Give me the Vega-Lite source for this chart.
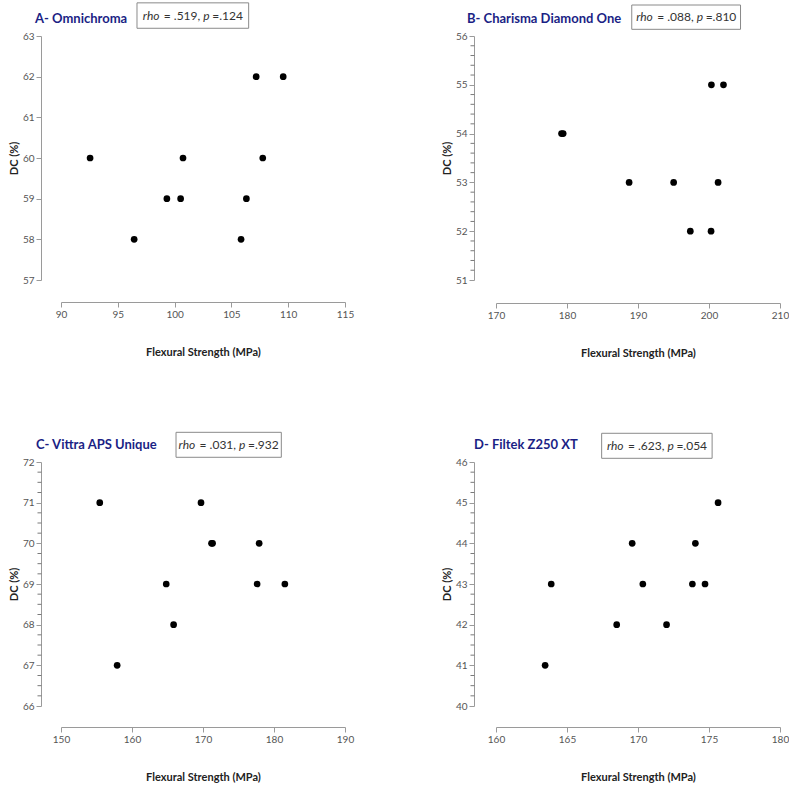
{
  "$schema": "https://vega.github.io/schema/vega-lite/v6.json",
  "padding": {"left": 8, "top": 2, "right": 2, "bottom": 5},
  "background": "white",
  "datasets": {
    "A": [
      {"fs": 92.56, "dc": 60}, {"fs": 96.44, "dc": 58}, {"fs": 99.32, "dc": 59}, {"fs": 100.53, "dc": 59}, {"fs": 100.74, "dc": 60},
      {"fs": 105.85, "dc": 58}, {"fs": 106.32, "dc": 59}, {"fs": 107.18, "dc": 62}, {"fs": 107.76, "dc": 60}, {"fs": 109.56, "dc": 62}
    ],
    "B": [
      {"fs": 179.23, "dc": 54}, {"fs": 179.46, "dc": 54}, {"fs": 188.75, "dc": 53}, {"fs": 195.02, "dc": 53}, {"fs": 197.37, "dc": 52},
      {"fs": 200.29, "dc": 52}, {"fs": 200.34, "dc": 55}, {"fs": 201.28, "dc": 53}, {"fs": 202.04, "dc": 55}
    ],
    "C": [
      {"fs": 155.46, "dc": 71}, {"fs": 169.72, "dc": 71}, {"fs": 171.2, "dc": 70}, {"fs": 171.35, "dc": 70}, {"fs": 177.91, "dc": 70},
      {"fs": 164.82, "dc": 69}, {"fs": 177.62, "dc": 69}, {"fs": 181.53, "dc": 69}, {"fs": 165.86, "dc": 68}, {"fs": 157.91, "dc": 67}
    ],
    "D": [
      {"fs": 175.64, "dc": 45}, {"fs": 169.59, "dc": 44}, {"fs": 174.04, "dc": 44}, {"fs": 163.89, "dc": 43}, {"fs": 170.34, "dc": 43},
      {"fs": 173.83, "dc": 43}, {"fs": 174.72, "dc": 43}, {"fs": 168.5, "dc": 42}, {"fs": 172.01, "dc": 42}, {"fs": 163.46, "dc": 41}
    ],
    "minorB": [
      {"v": 51.2}, {"v": 51.4}, {"v": 51.6}, {"v": 51.8}, {"v": 52.2}, {"v": 52.4}, {"v": 52.6}, {"v": 52.8}, {"v": 53.2}, {"v": 53.4},
      {"v": 53.6}, {"v": 53.8}, {"v": 54.2}, {"v": 54.4}, {"v": 54.6}, {"v": 54.8}, {"v": 55.2}, {"v": 55.4}, {"v": 55.6}, {"v": 55.8}
    ],
    "minorC": [
      {"v": 66.25}, {"v": 66.5}, {"v": 66.75}, {"v": 67.25}, {"v": 67.5}, {"v": 67.75}, {"v": 68.25}, {"v": 68.5}, {"v": 68.75},
      {"v": 69.25}, {"v": 69.5}, {"v": 69.75}, {"v": 70.25}, {"v": 70.5}, {"v": 70.75}, {"v": 71.25}, {"v": 71.5}, {"v": 71.75}
    ],
    "minorD": [
      {"v": 40.25}, {"v": 40.5}, {"v": 40.75}, {"v": 41.25}, {"v": 41.5}, {"v": 41.75}, {"v": 42.25}, {"v": 42.5}, {"v": 42.75},
      {"v": 43.25}, {"v": 43.5}, {"v": 43.75}, {"v": 44.25}, {"v": 44.5}, {"v": 44.75}, {"v": 45.25}, {"v": 45.5}, {"v": 45.75}
    ]
  },
  "config": {
    "view": {"stroke": null},
    "font": "Lato",
    "axis": {
      "grid": false,
      "domainColor": "#9a9a9a",
      "tickColor": "#9a9a9a",
      "labelColor": "#555555",
      "labelFont": "Lato",
      "labelFontSize": 10,
      "titleFont": "Lato",
      "titleFontSize": 11,
      "titleFontWeight": "bold",
      "titleColor": "#222222",
      "tickSize": 5,
      "labelPadding": 2,
      "labelFlush": false,
      "labelOverlap": false
    },
    "axisX": {"titlePadding": 27},
    "axisY": {"titlePadding": 3},
    "rule": {"color": "#7a7a7a", "strokeWidth": 1},
    "text": {"font": "Lato", "fontSize": 12, "color": "#333333", "align": "left", "baseline": "middle"},
    "title": {"font": "Lato", "fontSize": 13, "fontWeight": "bold", "color": "#1b1f85", "anchor": "start", "frame": "group", "baseline": "alphabetic"}
  },
  "columns": 2,
  "spacing": {"row": 182, "column": 151},
  "bounds": "flush",
  "concat": [
    {
      "width": 284, "height": 244,
      "title": {"text": "A- Omnichroma", "dx": -26, "offset": -23.5},
      "layer": [
        {
          "data": {"name": "A"},
          "mark": {"type": "circle", "size": 45, "color": "#000000", "opacity": 1},
          "encoding": {
            "x": {"field": "fs", "type": "quantitative", "scale": {"domain": [90, 115], "nice": false, "zero": false},
                  "axis": {"title": "Flexural Strength (MPa)", "values": [90, 95, 100, 105, 110, 115], "offset": 22}},
            "y": {"field": "dc", "type": "quantitative", "scale": {"domain": [57, 63], "nice": false, "zero": false},
                  "axis": {"title": "DC (%)", "values": [57, 58, 59, 60, 61, 62, 63], "offset": 20}}
          }
        },
        {
          "data": {"values": [{}]},
          "mark": {"type": "rect", "fill": "white", "stroke": "#8a8a8a", "strokeWidth": 1, "clip": false},
          "encoding": {"x": {"datum": 96.69, "type": "quantitative"}, "x2": {"datum": 106.52}, "y": {"datum": 63.815, "type": "quantitative"}, "y2": {"datum": 63.19}}
        },
        {
          "data": {"values": [{}]},
          "mark": {"type": "text", "text": "rho", "fontStyle": "italic", "dx": -50, "clip": false},
          "encoding": {"x": {"datum": 101.6, "type": "quantitative"}, "y": {"datum": 63.5, "type": "quantitative"}}
        },
        {
          "data": {"values": [{}]},
          "mark": {"type": "text", "text": "= .519,", "dx": -29, "clip": false},
          "encoding": {"x": {"datum": 101.6, "type": "quantitative"}, "y": {"datum": 63.5, "type": "quantitative"}}
        },
        {
          "data": {"values": [{}]},
          "mark": {"type": "text", "text": "p", "fontStyle": "italic", "dx": 10.5, "clip": false},
          "encoding": {"x": {"datum": 101.6, "type": "quantitative"}, "y": {"datum": 63.5, "type": "quantitative"}}
        },
        {
          "data": {"values": [{}]},
          "mark": {"type": "text", "text": "=.124", "dx": 19.5, "clip": false},
          "encoding": {"x": {"datum": 101.6, "type": "quantitative"}, "y": {"datum": 63.5, "type": "quantitative"}}
        }
      ]
    },
    {
      "width": 284, "height": 244,
      "title": {"text": "B- Charisma Diamond One", "dx": -29, "offset": -21.5},
      "layer": [
        {
          "data": {"name": "B"},
          "mark": {"type": "circle", "size": 45, "color": "#000000", "opacity": 1},
          "encoding": {
            "x": {"field": "fs", "type": "quantitative", "scale": {"domain": [170, 210], "nice": false, "zero": false},
                  "axis": {"title": "Flexural Strength (MPa)", "values": [170, 180, 190, 200, 210], "offset": 23}},
            "y": {"field": "dc", "type": "quantitative", "scale": {"domain": [51, 56], "nice": false, "zero": false},
                  "axis": {"title": "DC (%)", "values": [51, 52, 53, 54, 55, 56], "offset": 22}}
          }
        },
        {
          "data": {"name": "minorB"},
          "mark": {"type": "rule", "clip": false},
          "encoding": {"x": {"datum": 166.97, "type": "quantitative"}, "x2": {"datum": 166.41}, "y": {"field": "v", "type": "quantitative"}}
        },
        {
          "data": {"values": [{}]},
          "mark": {"type": "rect", "fill": "white", "stroke": "#8a8a8a", "strokeWidth": 1, "clip": false},
          "encoding": {"x": {"datum": 189.12, "type": "quantitative"}, "x2": {"datum": 204.44}, "y": {"datum": 56.635, "type": "quantitative"}, "y2": {"datum": 56.137}}
        },
        {
          "data": {"values": [{}]},
          "mark": {"type": "text", "text": "rho", "fontStyle": "italic", "dx": -50, "clip": false},
          "encoding": {"x": {"datum": 196.78, "type": "quantitative"}, "y": {"datum": 56.386, "type": "quantitative"}}
        },
        {
          "data": {"values": [{}]},
          "mark": {"type": "text", "text": "= .088,", "dx": -29, "clip": false},
          "encoding": {"x": {"datum": 196.78, "type": "quantitative"}, "y": {"datum": 56.386, "type": "quantitative"}}
        },
        {
          "data": {"values": [{}]},
          "mark": {"type": "text", "text": "p", "fontStyle": "italic", "dx": 10.5, "clip": false},
          "encoding": {"x": {"datum": 196.78, "type": "quantitative"}, "y": {"datum": 56.386, "type": "quantitative"}}
        },
        {
          "data": {"values": [{}]},
          "mark": {"type": "text", "text": "=.810", "dx": 19.5, "clip": false},
          "encoding": {"x": {"datum": 196.78, "type": "quantitative"}, "y": {"datum": 56.386, "type": "quantitative"}}
        }
      ]
    },
    {
      "width": 284, "height": 244,
      "title": {"text": "C- Vittra APS Unique", "dx": -25, "offset": -20.2},
      "layer": [
        {
          "data": {"name": "C"},
          "mark": {"type": "circle", "size": 45, "color": "#000000", "opacity": 1},
          "encoding": {
            "x": {"field": "fs", "type": "quantitative", "scale": {"domain": [150, 190], "nice": false, "zero": false},
                  "axis": {"title": "Flexural Strength (MPa)", "values": [150, 160, 170, 180, 190], "offset": 21}},
            "y": {"field": "dc", "type": "quantitative", "scale": {"domain": [66, 72], "nice": false, "zero": false},
                  "axis": {"title": "DC (%)", "values": [66, 67, 68, 69, 70, 71, 72], "offset": 20}}
          }
        },
        {
          "data": {"name": "minorC"},
          "mark": {"type": "rule", "clip": false},
          "encoding": {"x": {"datum": 147.25, "type": "quantitative"}, "x2": {"datum": 146.69}, "y": {"field": "v", "type": "quantitative"}}
        },
        {
          "data": {"values": [{}]},
          "mark": {"type": "rect", "fill": "white", "stroke": "#8a8a8a", "strokeWidth": 1, "clip": false},
          "encoding": {"x": {"datum": 166.2, "type": "quantitative"}, "x2": {"datum": 181.03}, "y": {"datum": 72.73, "type": "quantitative"}, "y2": {"datum": 72.116}}
        },
        {
          "data": {"values": [{}]},
          "mark": {"type": "text", "text": "rho", "fontStyle": "italic", "dx": -50, "clip": false},
          "encoding": {"x": {"datum": 173.6, "type": "quantitative"}, "y": {"datum": 72.42, "type": "quantitative"}}
        },
        {
          "data": {"values": [{}]},
          "mark": {"type": "text", "text": "= .031,", "dx": -29, "clip": false},
          "encoding": {"x": {"datum": 173.6, "type": "quantitative"}, "y": {"datum": 72.42, "type": "quantitative"}}
        },
        {
          "data": {"values": [{}]},
          "mark": {"type": "text", "text": "p", "fontStyle": "italic", "dx": 10.5, "clip": false},
          "encoding": {"x": {"datum": 173.6, "type": "quantitative"}, "y": {"datum": 72.42, "type": "quantitative"}}
        },
        {
          "data": {"values": [{}]},
          "mark": {"type": "text", "text": "=.932", "dx": 19.5, "clip": false},
          "encoding": {"x": {"datum": 173.6, "type": "quantitative"}, "y": {"datum": 72.42, "type": "quantitative"}}
        }
      ]
    },
    {
      "width": 284, "height": 244,
      "title": {"text": "D- Filtek Z250 XT", "dx": -22, "offset": -19.2},
      "layer": [
        {
          "data": {"name": "D"},
          "mark": {"type": "circle", "size": 45, "color": "#000000", "opacity": 1},
          "encoding": {
            "x": {"field": "fs", "type": "quantitative", "scale": {"domain": [160, 180], "nice": false, "zero": false},
                  "axis": {"title": "Flexural Strength (MPa)", "values": [160, 165, 170, 175, 180], "offset": 21}},
            "y": {"field": "dc", "type": "quantitative", "scale": {"domain": [40, 46], "nice": false, "zero": false},
                  "axis": {"title": "DC (%)", "values": [40, 41, 42, 43, 44, 45, 46], "offset": 22}}
          }
        },
        {
          "data": {"name": "minorD"},
          "mark": {"type": "rule", "clip": false},
          "encoding": {"x": {"datum": 158.485, "type": "quantitative"}, "x2": {"datum": 158.204}, "y": {"field": "v", "type": "quantitative"}}
        },
        {
          "data": {"values": [{}]},
          "mark": {"type": "rect", "fill": "white", "stroke": "#8a8a8a", "strokeWidth": 1, "clip": false},
          "encoding": {"x": {"datum": 167.44, "type": "quantitative"}, "x2": {"datum": 175.22}, "y": {"datum": 46.706, "type": "quantitative"}, "y2": {"datum": 46.091}}
        },
        {
          "data": {"values": [{}]},
          "mark": {"type": "text", "text": "rho", "fontStyle": "italic", "dx": -50, "clip": false},
          "encoding": {"x": {"datum": 171.33, "type": "quantitative"}, "y": {"datum": 46.4, "type": "quantitative"}}
        },
        {
          "data": {"values": [{}]},
          "mark": {"type": "text", "text": "= .623,", "dx": -29, "clip": false},
          "encoding": {"x": {"datum": 171.33, "type": "quantitative"}, "y": {"datum": 46.4, "type": "quantitative"}}
        },
        {
          "data": {"values": [{}]},
          "mark": {"type": "text", "text": "p", "fontStyle": "italic", "dx": 10.5, "clip": false},
          "encoding": {"x": {"datum": 171.33, "type": "quantitative"}, "y": {"datum": 46.4, "type": "quantitative"}}
        },
        {
          "data": {"values": [{}]},
          "mark": {"type": "text", "text": "=.054", "dx": 19.5, "clip": false},
          "encoding": {"x": {"datum": 171.33, "type": "quantitative"}, "y": {"datum": 46.4, "type": "quantitative"}}
        }
      ]
    }
  ]
}
